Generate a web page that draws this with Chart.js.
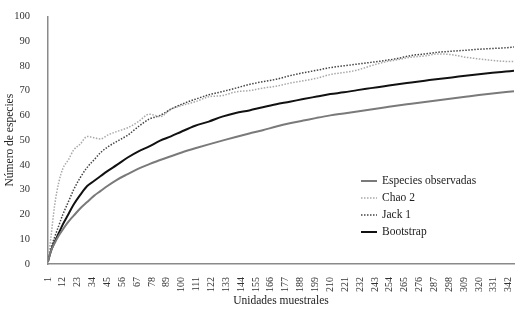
<!DOCTYPE html>
<html>
<head>
<meta charset="utf-8">
<script src="https://cdn.jsdelivr.net/npm/chart.js@4/dist/chart.umd.min.js"></script>
<style>
  html, body { margin: 0; padding: 0; background: #fff; }
  #wrap { width: 526px; height: 317px; position: relative; }
</style>
</head>
<body>
<div id="wrap"><canvas id="curvas"></canvas></div>
<script>
const unidades = [1, 3, 6, 9, 12, 16, 20, 25, 30, 35, 40, 45, 52, 60, 68, 76, 84, 92, 100, 110,
  120, 130, 140, 150, 160, 170, 180, 190, 200, 210, 220, 230, 240, 250, 260, 270, 280, 290,
  300, 310, 320, 330, 340, 346];

const observadas = [1, 5, 8.5, 11.5, 14, 17, 19.5, 22.5, 25, 27.5, 29.5, 31.5, 34, 36.3, 38.5, 40.3,
  42, 43.5, 45, 46.7, 48.3, 49.8, 51.3, 52.7, 54, 55.5, 56.8, 57.9, 59, 60, 60.8, 61.6, 62.4,
  63.2, 64, 64.7, 65.4, 66.1, 66.8, 67.5, 68.2, 68.8, 69.4, 69.7];

const chao2 = [1, 10, 24, 33, 38.5, 42, 46, 48.5, 51.5, 51, 50.5, 52, 53.5, 55, 57.5, 60.5,
  59.5, 62.5, 64, 65.5, 67.5, 68, 69.5, 70, 71, 71.8, 73, 74, 75, 76.5, 77.3, 78.3, 80, 81.5,
  82.5, 83.5, 84, 84.8, 84.5, 83.5, 82.8, 82.2, 81.8, 81.8];

const jack1 = [1, 6, 11, 15.5, 20, 25, 30, 35, 39, 42, 45, 47.2, 49.5, 52, 55.5, 58.5, 60,
  62.5, 64.5, 66.5, 68.3, 69.6, 71, 72.5, 73.6, 74.6, 76, 77.2, 78.2, 79.3, 80, 80.7, 81.4,
  82.1, 83, 84.2, 84.8, 85.5, 85.9, 86.3, 86.7, 87, 87.3, 87.6];

const bootstrap = [1, 5, 9, 12.5, 16, 20, 24, 28, 31.5, 33.5, 35.5, 37.5, 40, 43, 45.5, 47.5,
  49.8, 51.5, 53.5, 55.8, 57.5, 59.5, 61, 62, 63.3, 64.5, 65.5, 66.6, 67.6, 68.6, 69.3, 70.2,
  71, 71.8, 72.6, 73.3, 74, 74.7, 75.3, 76, 76.6, 77.2, 77.7, 78];

const xTickLabels = [1, 12, 23, 34, 45, 56, 67, 78, 89, 100, 111, 122, 133, 144, 155, 166, 177,
  188, 199, 210, 221, 232, 243, 254, 265, 276, 287, 298, 309, 320, 331, 342];

const serif = "'Liberation Serif', 'DejaVu Serif', serif";

function puntos(valores) {
  return unidades.map((u, i) => ({ x: u, y: valores[i] }));
}

// legend drawn inside the plot, lower right
const leyenda = {
  id: "leyenda",
  afterDraw(chart) {
    const ctx = chart.ctx;
    const x0 = 361, x1 = 377, tx = 382;
    let y = 181;
    ctx.save();
    ctx.font = "11.5px " + serif;
    ctx.textBaseline = "middle";
    chart.data.datasets.forEach((ds) => {
      ctx.beginPath();
      ctx.strokeStyle = ds.borderColor;
      ctx.lineWidth = ds.borderWidth;
      ctx.setLineDash(ds.borderDash || []);
      ctx.moveTo(x0, y);
      ctx.lineTo(x1, y);
      ctx.stroke();
      ctx.setLineDash([]);
      ctx.fillStyle = "#222";
      ctx.fillText(ds.label, tx, y);
      y += 17;
    });
    ctx.restore();
  },
};

const curvasData = {
  datasets: [
    {
      label: "Especies observadas",
      data: puntos(observadas),
      borderColor: "#7a7a7a",
      borderWidth: 2,
    },
    {
      label: "Chao 2",
      data: puntos(chao2),
      borderColor: "#a8a8a8",
      borderWidth: 1.5,
      borderDash: [1.5, 1.5],
    },
    {
      label: "Jack 1",
      data: puntos(jack1),
      borderColor: "#444",
      borderWidth: 1.5,
      borderDash: [1.5, 1.5],
    },
    {
      label: "Bootstrap",
      data: puntos(bootstrap),
      borderColor: "#111",
      borderWidth: 2,
    },
  ],
};

const curvasConfig = {
  type: "line",
  data: curvasData,
  options: {
    responsive: true,
    maintainAspectRatio: false,
    animation: false,
    elements: {
      point: { radius: 0 },
      line: { cubicInterpolationMode: "monotone", fill: false },
    },
    layout: { padding: { top: 15, right: 12, bottom: 0, left: 0 } },
    plugins: {
      legend: { display: false },
      tooltip: { enabled: false },
    },
    scales: {
      x: {
        type: "linear",
        min: 1,
        max: 346,
        grid: { display: false },
        border: { color: "#8a8a8a", width: 1.5 },
        afterBuildTicks: (scale) => {
          scale.ticks = xTickLabels.map((v) => ({ value: v }));
        },
        afterFit: (scale) => {
          scale.height = 53;
        },
        ticks: {
          autoSkip: false,
          minRotation: 90,
          maxRotation: 90,
          padding: 5,
          color: "#333",
          font: { family: serif, size: 10 },
        },
        title: {
          display: true,
          text: "Unidades muestrales",
          color: "#222",
          padding: { top: 0, bottom: 9 },
          font: { family: serif, size: 11.5 },
        },
      },
      y: {
        min: 0,
        max: 100,
        grid: { display: false },
        border: { color: "#8a8a8a", width: 1.5 },
        afterFit: (scale) => {
          scale.width = 48;
        },
        ticks: {
          stepSize: 10,
          padding: 10,
          color: "#333",
          font: { family: serif, size: 10.5 },
        },
        title: {
          display: true,
          text: "Número de especies",
          color: "#222",
          padding: { top: 3, bottom: 0 },
          font: { family: serif, size: 11.5 },
        },
      },
    },
  },
  plugins: [leyenda],
};

const curvasChart = new Chart(document.getElementById("curvas"), curvasConfig);
</script>
</body>
</html>
